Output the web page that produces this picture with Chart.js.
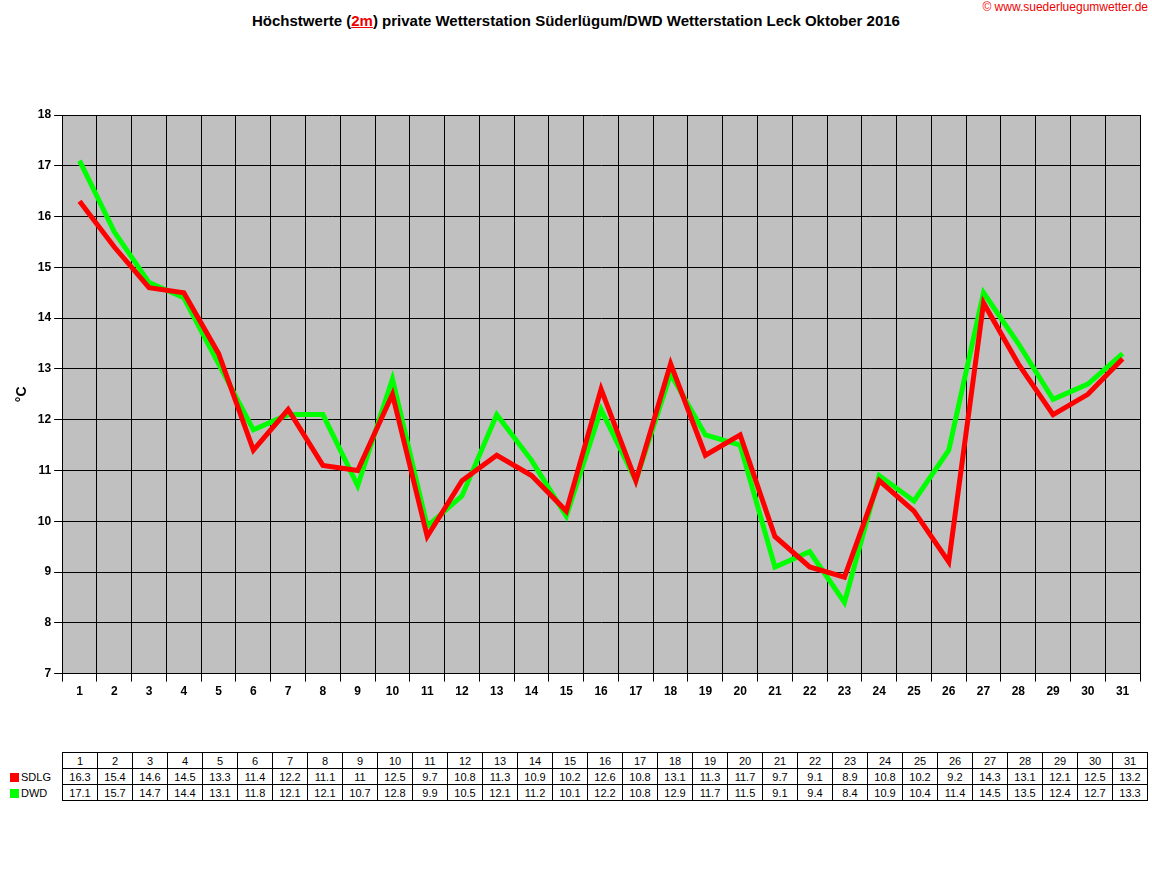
<!DOCTYPE html>
<html><head><meta charset="utf-8">
<script src="https://cdn.jsdelivr.net/npm/chart.js@4"></script>
<style>
body{margin:0;background:#fff;font-family:"Liberation Sans",Arial,sans-serif;}
#title{position:absolute;top:12px;left:0;width:1152px;text-align:center;font-weight:bold;font-size:15px;}
#title span{color:#e00;text-decoration:underline;}
#copy{position:absolute;top:0;right:4px;color:#e00;font-size:12px;}
#wrap{position:absolute;left:0;top:40px;width:1152px;height:680px;}
table{position:absolute;left:8px;top:752px;border-collapse:collapse;font-size:11px;}
td{border:1px solid #000;text-align:center;height:15px;padding:0;width:34px;}
td.h{width:54px;text-align:left;border:none;}
td.e{border:none;}
.sw{display:inline-block;width:9px;height:9px;margin:0 2px 0 2px;vertical-align:middle;}
</style></head><body>
<div id="title">Höchstwerte (<span>2m</span>) private Wetterstation Süderlügum/DWD Wetterstation Leck Oktober 2016</div>
<div id="copy">© www.suederluegumwetter.de</div>
<div id="wrap"><canvas id="c"></canvas></div>
<table id="tbl"></table>
<script>
const days = Array.from({length: 31}, (_, i) => String(i + 1));
const sdlg = [16.3,15.4,14.6,14.5,13.3,11.4,12.2,11.1,11,12.5,9.7,10.8,11.3,10.9,10.2,12.6,10.8,13.1,11.3,11.7,9.7,9.1,8.9,10.8,10.2,9.2,14.3,13.1,12.1,12.5,13.2];
const dwd = [17.1,15.7,14.7,14.4,13.1,11.8,12.1,12.1,10.7,12.8,9.9,10.5,12.1,11.2,10.1,12.2,10.8,12.9,11.7,11.5,9.1,9.4,8.4,10.9,10.4,11.4,14.5,13.5,12.4,12.7,13.3];

// table below the chart
const tbl = document.getElementById('tbl');
let html = '<tr><td class="h e"></td>' + days.map(d => `<td>${d}</td>`).join('') + '</tr>';
html += '<tr><td class="h"><span class="sw" style="background:#f00"></span>SDLG</td>' + sdlg.map(v => `<td>${v}</td>`).join('') + '</tr>';
html += '<tr><td class="h"><span class="sw" style="background:#0f0"></span>DWD</td>' + dwd.map(v => `<td>${v}</td>`).join('') + '</tr>';
tbl.innerHTML = html;

const grayBg = {
  id: 'grayBg',
  beforeDraw(chart) {
    const {ctx, chartArea: a} = chart;
    ctx.save();
    ctx.fillStyle = '#c0c0c0';
    ctx.fillRect(a.left, a.top, a.right - a.left, a.bottom - a.top);
    ctx.restore();
  }
};

new Chart(document.getElementById('c'), {
  type: 'line',
  data: {
    labels: days,
    datasets: [
      {label: 'SDLG', data: sdlg, borderColor: '#ff0000', borderWidth: 5, pointRadius: 0, order: 0, tension: 0},
      {label: 'DWD', data: dwd, borderColor: '#00ff00', borderWidth: 5, pointRadius: 0, order: 1, tension: 0},
    ],
  },
  options: {
    responsive: true,
    maintainAspectRatio: false,
    animation: false,
    layout: {padding: {left: 10, right: 12, top: 75, bottom: 18}},
    scales: {
      x: {
        offset: true,
        grid: {color: '#000', offset: true},
        border: {color: '#000'},
        ticks: {color: '#000', font: {weight: 'bold', size: 12}, maxRotation: 0},
      },
      y: {
        min: 7, max: 18,
        ticks: {stepSize: 1, color: '#000', font: {weight: 'bold', size: 12}},
        grid: {color: '#000'},
        border: {color: '#000'},
        title: {display: true, text: '°C', color: '#000', font: {weight: 'bold', size: 14}},
      },
    },
    plugins: {legend: {display: false}, tooltip: {enabled: false}},
  },
  plugins: [grayBg],
});
</script>
</body></html>
